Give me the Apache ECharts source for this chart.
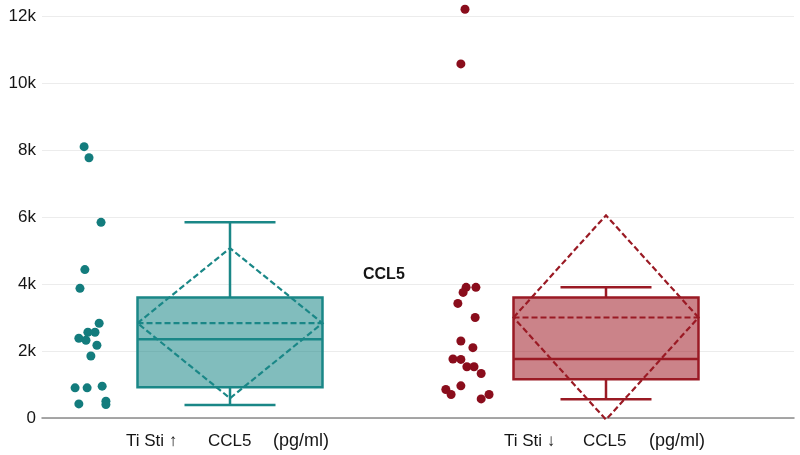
<!DOCTYPE html>
<html><head><meta charset="utf-8">
<script src="https://cdn.jsdelivr.net/npm/echarts@6/dist/echarts.min.js"></script>
<style>html,body{margin:0;padding:0;background:#fff}#c{width:800px;height:455px}</style>
</head><body><div id="c"></div>
<script>
// ---- data ----
const groupLabels = ['Ti Sti \u2191', 'Ti Sti \u2193'];
const analyte = 'CCL5';
const unit = '(pg/ml)';
const yTicks = [0, 2000, 4000, 6000, 8000, 10000, 12000];
// raw points (pg/ml) and their horizontal jitter (fraction of category width)
const upValues = [8100, 7770, 5840, 4430, 3870, 2830, 2560, 2560, 2380, 2320, 2170, 1850, 900, 900, 950, 420, 500, 400];
const upJitter = [-0.388, -0.375, -0.343, -0.386, -0.399, -0.348, -0.378, -0.359, -0.402, -0.383, -0.354, -0.370, -0.412, -0.380, -0.340, -0.402, -0.330, -0.330];
const downValues = [12200, 10570, 3900, 3750, 3900, 3420, 3000, 2300, 2100, 1760, 1750, 1530, 1530, 1330, 960, 850, 700, 570, 700];
const downJitter = [-0.375, -0.386, -0.372, -0.380, -0.346, -0.394, -0.348, -0.386, -0.354, -0.407, -0.386, -0.370, -0.351, -0.332, -0.386, -0.426, -0.412, -0.332, -0.311];
// box statistics: [min, q1, median, q3, max]
const upBox = [390, 920, 2350, 3600, 5840];
const downBox = [560, 1160, 1760, 3600, 3900];
// mean and standard deviation
const upMean = [2830, 2240];
const downMean = [3000, 3050];

const colors = [
  {pt: '#137c7d', line: '#1a8787', fill: 'rgba(26,135,135,0.55)'},
  {pt: '#8a0d1c', line: '#9a1a24', fill: 'rgba(160,30,40,0.55)'}
];

const boxes = [upBox, downBox];
const means = [upMean, downMean];
const BW = 0.246, CW = 0.121;
const FONT = 'Liberation Sans, Arial, sans-serif';

const chart = echarts.init(document.getElementById('c'), null, {renderer: 'canvas'});

function renderBox(params, api) {
  const i = params.dataIndex;
  const c = api.value(0);
  const [mn, q1, md, q3, mx] = boxes[i];
  const [mean, sd] = means[i];
  const col = colors[i];
  const p = (x, y) => api.coord([x, y]);
  const line = (a, b, dash, w) => ({
    type: 'line',
    shape: {x1: a[0], y1: a[1], x2: b[0], y2: b[1]},
    style: {stroke: col.line, lineWidth: w || 2.5, lineDash: dash || null}
  });
  const tl = p(c - BW, q3), br = p(c + BW, q1);
  const kids = [];
  kids.push({type: 'rect', shape: {x: tl[0], y: tl[1], width: br[0] - tl[0], height: br[1] - tl[1]},
    style: {fill: col.fill, stroke: col.line, lineWidth: 2.5}});
  kids.push(line(p(c, q3), p(c, mx)));
  kids.push(line(p(c - CW, mx), p(c + CW, mx)));
  kids.push(line(p(c, q1), p(c, mn)));
  kids.push(line(p(c - CW, mn), p(c + CW, mn)));
  kids.push(line(p(c - BW, md), p(c + BW, md)));
  kids.push(line(p(c - BW, mean), p(c + BW, mean), [6, 3], 2.2));
  const d = [p(c - BW, mean), p(c, mean + sd), p(c + BW, mean), p(c, mean - sd)];
  kids.push({type: 'polygon', shape: {points: d},
    style: {fill: null, stroke: col.line, lineWidth: 2.2, lineDash: [6, 3]}});
  return {type: 'group', children: kids};
}

function txt(s, x, y, size, weight) {
  return {type: 'text', x: x, y: y,
    style: {text: s, fontSize: size, fontWeight: weight || 'normal', fill: '#151515',
      fontFamily: FONT, textVerticalAlign: 'middle', verticalAlign: 'middle'}};
}

const option = {
  backgroundColor: '#fff',
  animation: false,
  grid: {left: 42, right: 6, top: 16, bottom: 37},
  xAxis: {
    type: 'value', min: 0, max: 2,
    axisLine: {show: true, lineStyle: {color: '#8a8a8a', width: 1.5}},
    axisTick: {show: false}, axisLabel: {show: false}, splitLine: {show: false}
  },
  yAxis: {
    type: 'value', min: yTicks[0], max: yTicks[yTicks.length - 1], interval: 2000,
    axisLine: {show: false}, axisTick: {show: false},
    axisLabel: {
      fontSize: 17, color: '#151515', fontFamily: FONT, margin: 6,
      formatter: v => v === 0 ? '0' : (v / 1000) + 'k'
    },
    splitLine: {lineStyle: {color: '#ececec', width: 1}}
  },
  series: [
    {
      type: 'custom', renderItem: renderBox, clip: false,
      data: [[0.5], [1.5]], z: 2
    },
    {
      type: 'scatter', symbolSize: 9, z: 3, clip: false,
      itemStyle: {color: colors[0].pt, opacity: 1},
      data: upValues.map((v, k) => [0.5 + upJitter[k], v])
    },
    {
      type: 'scatter', symbolSize: 9, z: 3, clip: false,
      itemStyle: {color: colors[1].pt, opacity: 1},
      data: downValues.map((v, k) => [1.5 + downJitter[k], v])
    }
  ],
  graphic: [
    txt(groupLabels[0], 126, 441, 17),
    txt(analyte, 208, 441, 17),
    txt(unit, 273, 441, 18),
    txt(groupLabels[1], 504, 441, 17),
    txt(analyte, 583, 441, 17),
    txt(unit, 649, 441, 18),
    txt(analyte, 363, 275, 16, 'bold')
  ]
};
chart.setOption(option);
</script>
</body></html>
